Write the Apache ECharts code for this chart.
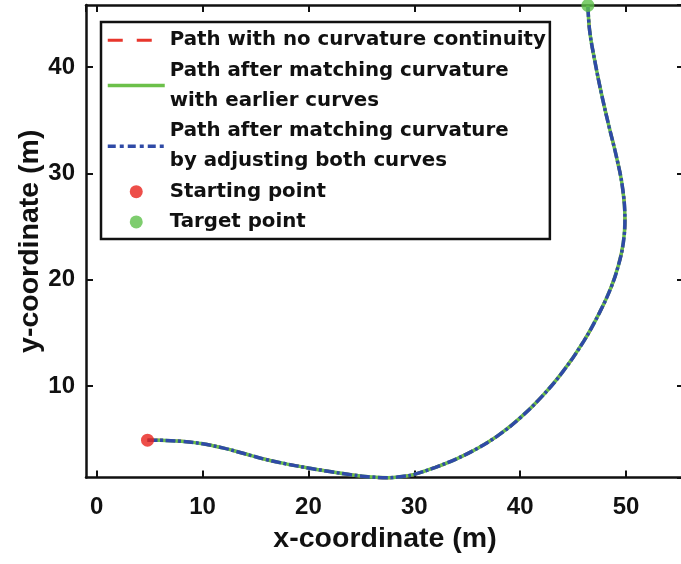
<!DOCTYPE html>
<html>
<head>
<meta charset="utf-8">
<script src="https://cdn.jsdelivr.net/npm/echarts@6/dist/echarts.min.js"></script>
<style>
html,body{margin:0;padding:0;background:#fff;}
#chart{width:681px;height:564px;}
</style>
</head>
<body>
<div id="chart"></div>
<script>
// ---- data ----
const pathX = [4.8, 6, 8, 10, 12, 14, 16, 18, 20, 22, 24, 26, 27.5, 29, 30, 32, 34, 36, 38, 40, 42, 44, 46, 47.5, 48.6, 49.3, 49.75, 49.9, 49.66, 49.09, 48.4, 47.68, 47.05, 46.57, 46.4];
const pathY = [4.9, 4.89, 4.79, 4.56, 4.15, 3.62, 3.08, 2.65, 2.28, 1.95, 1.65, 1.43, 1.36, 1.5, 1.68, 2.35, 3.15, 4.15, 5.4, 7.0, 8.95, 11.3, 14.2, 16.9, 19.3, 21.4, 23.5, 25.7, 28.75, 31.6, 34.4, 37.5, 40.6, 43.4, 45.8];
const startPoint = [4.8, 4.9];
const targetPoint = [46.4, 45.8];
const seriesNames = [
  'Path with no curvature continuity',
  'Path after matching curvature\nwith earlier curves',
  'Path after matching curvature\nby adjusting both curves',
  'Starting point',
  'Target point'
];
const xTitle = 'x-coordinate (m)';
const yTitle = 'y-coordinate (m)';

const pathData = pathX.map((x, i) => [x, pathY[i]]);

const chart = echarts.init(document.getElementById('chart'), null, {renderer: 'canvas'});
const tickFont = {fontFamily: 'Liberation Sans, Arial, sans-serif', fontWeight: 'bold', fontSize: 24, color: '#111'};
const titleFont = {fontFamily: 'Liberation Sans, Arial, sans-serif', fontWeight: 'bold', fontSize: 28.5, color: '#111'};
const axisLine = {show: true, onZero: false, lineStyle: {color: '#111', width: 2.5}};
const axisTick = {show: true, inside: true, length: 7, lineStyle: {color: '#111', width: 2}};
const xRange = {min: -1.01, max: 55.48};
const yRange = {min: 1.39, max: 45.84};

const redStyle = {color: '#e8362c', width: 3, type: [15, 14]};
const greenStyle = {color: '#6cc04a', width: 3.5, type: 'solid'};
const blueStyle = {color: '#2f4aa6', width: 3.5, type: [10, 2.5, 3, 2.5]};

chart.setOption({
  animation: false,
  backgroundColor: '#fff',
  grid: {left: 86, right: -3, top: 5, bottom: 86.5, containLabel: false, outerBoundsMode: 'none'},
  xAxis: [
    Object.assign({type: 'value', position: 'bottom', splitNumber: 5,
      axisLine: axisLine, axisTick: axisTick, splitLine: {show: false},
      axisLabel: Object.assign({margin: 18, showMinLabel: false, showMaxLabel: false}, tickFont),
      name: xTitle, nameLocation: 'middle', nameGap: 47, nameMoveOverlap: false, nameTextStyle: titleFont}, xRange),
    Object.assign({type: 'value', position: 'top', splitNumber: 5,
      axisLine: axisLine, axisTick: axisTick, splitLine: {show: false},
      axisLabel: {show: false}}, xRange)
  ],
  yAxis: [
    Object.assign({type: 'value', position: 'left', splitNumber: 5,
      axisLine: axisLine, axisTick: axisTick, splitLine: {show: false},
      axisLabel: Object.assign({margin: 11, showMinLabel: false, showMaxLabel: false}, tickFont),
      name: yTitle, nameLocation: 'middle', nameGap: 41, nameMoveOverlap: false, nameTextStyle: titleFont}, yRange),
    Object.assign({type: 'value', position: 'right', splitNumber: 5,
      axisLine: axisLine, axisTick: axisTick, splitLine: {show: false},
      axisLabel: {show: false}}, yRange)
  ],
  legend: {
    orient: 'vertical',
    left: 101, top: 22,
    padding: [3, 4, 2, 5],
    itemGap: 0,
    itemWidth: 57, itemHeight: 13,
    backgroundColor: '#fff',
    borderColor: '#111', borderWidth: 2.5,
    selectedMode: false,
    textStyle: {fontFamily: 'DejaVu Sans, sans-serif', fontWeight: 'bold', fontSize: 19.8, color: '#111', lineHeight: 30.3},
    data: [
      {name: seriesNames[0], itemStyle: {opacity: 0}, lineStyle: redStyle},
      {name: seriesNames[1], itemStyle: {opacity: 0}, lineStyle: greenStyle},
      {name: seriesNames[2], itemStyle: {opacity: 0}, lineStyle: {color: '#2f4aa6', width: 3.5, type: [8, 4, 4, 4]}},
      {name: seriesNames[3]},
      {name: seriesNames[4]}
    ]
  },
  series: [
    {name: seriesNames[0], type: 'line', data: pathData, smooth: 0.4, symbol: 'none', showSymbol: false, clip: false,
      lineStyle: redStyle, itemStyle: {color: '#e8362c'}, z: 2},
    {name: seriesNames[1], type: 'line', data: pathData, smooth: 0.4, symbol: 'none', showSymbol: false, clip: false,
      lineStyle: greenStyle, itemStyle: {color: '#6cc04a'}, z: 3},
    {name: seriesNames[2], type: 'line', data: pathData, smooth: 0.4, symbol: 'none', showSymbol: false, clip: false,
      lineStyle: blueStyle, itemStyle: {color: '#2f4aa6'}, z: 4},
    {name: seriesNames[3], type: 'scatter', data: [startPoint], symbol: 'circle', symbolSize: 13, clip: false,
      itemStyle: {color: '#e8221b'}, z: 5},
    {name: seriesNames[4], type: 'scatter', data: [targetPoint], symbol: 'circle', symbolSize: 13, clip: false,
      itemStyle: {color: '#5ec04a'}, z: 5}
  ]
});
</script>
</body>
</html>
